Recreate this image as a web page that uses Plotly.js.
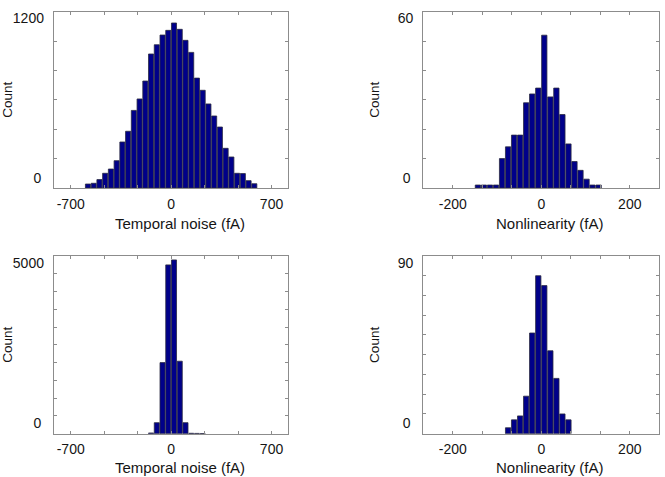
<!DOCTYPE html>
<html>
<head>
<meta charset="utf-8">
<script src="https://cdn.plot.ly/plotly-3.0.1.min.js"></script>
<style>html,body{margin:0;padding:0;background:#fff}#chart{width:665px;height:477px}</style>
</head>
<body>
<div id="chart"></div>
<script>
// ---- data ----
// Panel A: temporal noise (fA), bins of 40 fA
const noiseACenters = [-580,-540,-500,-460,-420,-380,-340,-300,-260,-220,-180,-140,-100,-60,-20,20,60,100,140,180,220,260,300,340,380,420,460,500,540,580];
const noiseACounts  = [27,32,57,100,129,186,313,386,528,606,728,912,975,1041,1073,1123,1080,1005,923,748,665,572,490,415,270,211,100,98,50,29];
// Panel B: nonlinearity (fA)
const nonlinBCenters = [-143.2,-129.6,-115.9,-102.3,-88.6,-75.0,-61.4,-47.7,-34.1,-20.5,-6.8,6.8,20.5,34.1,47.7,61.4,75.0,88.6,102.3,115.9,129.6];
const nonlinBCounts  = [1,1,1,1,10,14,18,18,29,32,34,52,31,34,25,15,9,6,3,1,1];
// Panel C: temporal noise (fA), bins of 40 fA
const noiseCCenters = [-140,-100,-60,-20,20,60,100,140,180,220];
const noiseCCounts  = [20,310,2000,4750,4890,2040,310,12,8,5];
// Panel D: nonlinearity (fA)
const nonlinDCenters = [-75.0,-61.4,-47.7,-34.1,-20.5,-6.8,6.8,20.5,34.1,47.7,61.4];
const nonlinDCounts  = [3,7,9,19,51,80,75,42,28,10,7];

// axis ticks
const noiseTickVals = [-700,-466.67,-233.33,0,233.33,466.67,700];
const noiseTickText = ["-700","","","0","","","700"];
const nonlinTickVals = [-200,-133.33,-66.67,0,66.67,133.33,200];
const nonlinTickText = ["-200","","","0","","","200"];
const yTicksA = [0,200,400,600,800,1000,1200];
const yTicksB = [0,10,20,30,40,50,60];
const yTicksC = [0,500,1000,1500,2000,2500,3000,3500,4000,4500,5000];
const yTicksD = [0,10,20,30,40,50,60,70,80,90];
const xTitleNoise = "Temporal noise (fA)";
const xTitleNonlin = "Nonlinearity (fA)";
const yTitle = "Count";

// ---- styling ----
const FONT = "Liberation Sans, Arial, sans-serif";
const barColor = "#00008a";
const edgeColor = "#2a2a40";
const lineColor = "#8c8c8c";
const textColor = "#151515";

function barTrace(x, y, xa, ya) {
  return {type: "bar", x: x, y: y, xaxis: xa, yaxis: ya,
    marker: {color: barColor, line: {color: edgeColor, width: 0.8}},
    hoverinfo: "x+y", showlegend: false};
}
// empty helper traces so the overlay label axes get drawn
function emptyTrace(xa, ya) {
  return {type: "scatter", mode: "markers", x: [], y: [], xaxis: xa, yaxis: ya,
    hoverinfo: "skip", showlegend: false};
}

const data = [
  barTrace(noiseACenters, noiseACounts, "x", "y"),
  barTrace(nonlinBCenters, nonlinBCounts, "x2", "y2"),
  barTrace(noiseCCenters, noiseCCounts, "x3", "y3"),
  barTrace(nonlinDCenters, nonlinDCounts, "x4", "y4"),
  emptyTrace("x", "y5"), emptyTrace("x2", "y6"),
  emptyTrace("x3", "y7"), emptyTrace("x4", "y8")
];

function xAxis(domain, anchor, range, vals, text) {
  return {domain: domain, anchor: anchor, range: range, tickmode: "array",
    tickvals: vals, ticktext: text, ticks: "inside", ticklen: 3, tickcolor: lineColor,
    ticklabelstandoff: 3,
    showline: true, linecolor: lineColor, linewidth: 1, mirror: "ticks",
    showgrid: false, zeroline: false, fixedrange: true,
    tickfont: {family: FONT, size: 14, color: textColor}};
}
function yAxis(domain, anchor, range, vals, botLabel) {
  const text = vals.map((v, i) => i === 0 ? botLabel : "");
  return {domain: domain, anchor: anchor, range: range, tickmode: "array",
    tickvals: vals, ticktext: text, ticks: "inside", ticklen: 3, tickcolor: lineColor,
    ticklabelposition: "outside top", ticklabelstandoff: 9,
    showline: true, linecolor: lineColor, linewidth: 1, mirror: "ticks",
    showgrid: false, zeroline: false, fixedrange: true,
    tickfont: {family: FONT, size: 14, color: textColor},
    title: {text: yTitle, font: {family: FONT, size: 13.5, color: textColor}, standoff: 19}};
}
function yTopLabel(overlay, anchor, range, topVal) {
  return {overlaying: overlay, anchor: anchor, side: "left", range: range,
    tickmode: "array", tickvals: [topVal], ticktext: [String(topVal)],
    ticklabelposition: "outside bottom", ticklabelstandoff: 9, ticklabelshift: -3,
    ticks: "", showline: false,
    showgrid: false, zeroline: false, fixedrange: true,
    tickfont: {family: FONT, size: 14, color: textColor}};
}
function xTitle(xa, ya, text, yshift) {
  return {text: text, xref: xa + " domain", yref: ya + " domain", x: 0.5, y: 0,
    xshift: 9, yshift: yshift, xanchor: "center", yanchor: "middle", showarrow: false,
    font: {family: FONT, size: 15, color: textColor}};
}

const xdL = [0.0812, 0.4335], xdR = [0.6365, 0.9914];
const ydT = [0.6059, 0.9755], ydB = [0.0908, 0.4633];

const layout = {
  width: 665, height: 477,
  margin: {l: 0, r: 0, t: 0, b: 0},
  paper_bgcolor: "#fff", plot_bgcolor: "#fff",
  bargap: 0.12,
  showlegend: false,
  font: {family: FONT, color: textColor},
  xaxis:  xAxis(xdL, "y",  [-816.67, 816.67], noiseTickVals, noiseTickText),
  xaxis2: xAxis(xdR, "y2", [-266.67, 266.67], nonlinTickVals, nonlinTickText),
  xaxis3: xAxis(xdL, "y3", [-816.67, 816.67], noiseTickVals, noiseTickText),
  xaxis4: xAxis(xdR, "y4", [-266.67, 266.67], nonlinTickVals, nonlinTickText),
  yaxis:  yAxis(ydT, "x",  [0, 1200], yTicksA, "0"),
  yaxis2: yAxis(ydT, "x2", [0, 60],   yTicksB, "0"),
  yaxis3: yAxis(ydB, "x3", [0, 5000], yTicksC, "0"),
  yaxis4: yAxis(ydB, "x4", [0, 90],   yTicksD, "0"),
  yaxis5: yTopLabel("y",  "x",  [0, 1200], 1200),
  yaxis6: yTopLabel("y2", "x2", [0, 60],   60),
  yaxis7: yTopLabel("y3", "x3", [0, 5000], 5000),
  yaxis8: yTopLabel("y4", "x4", [0, 90],   90),
  annotations: [
    xTitle("x",  "y",  xTitleNoise,  -36),
    xTitle("x2", "y2", xTitleNonlin, -36),
    xTitle("x3", "y3", xTitleNoise,  -34),
    xTitle("x4", "y4", xTitleNonlin, -34)
  ]
};

Plotly.newPlot("chart", data, layout, {staticPlot: true, displayModeBar: false});
</script>
</body>
</html>
